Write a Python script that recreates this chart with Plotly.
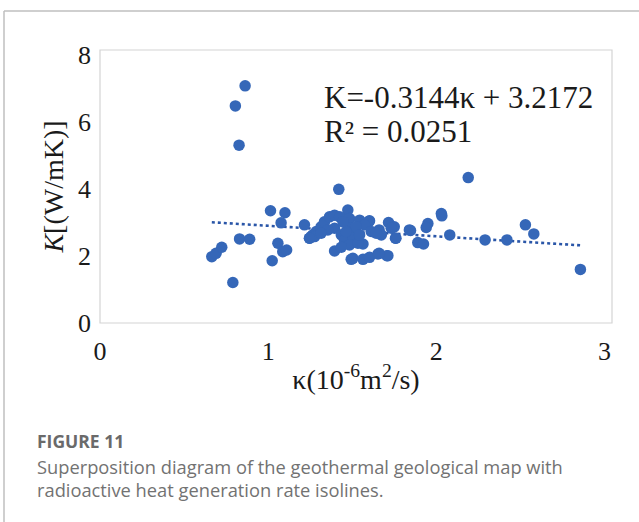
import plotly.graph_objects as go

# Thermal diffusivity κ (10^-6 m^2/s) and thermal conductivity K (W/mK)
kappa = [
    0.863, 0.805, 0.827, 2.19, 1.42, 2.857, 0.79,
    0.665, 0.69, 0.724, 0.83, 0.89, 1.014, 1.10, 1.077, 1.058, 1.087, 1.11, 1.024,
    1.216, 1.256, 1.246, 1.266, 1.395, 1.504, 1.564, 1.603, 1.653, 1.712, 1.564,
    1.474, 1.60, 1.716, 1.757, 1.84, 1.89, 1.95,
    1.75, 1.706, 1.847, 1.924, 1.94, 2.03, 2.033, 2.08, 2.29, 2.42, 2.53, 2.58,
    1.286, 1.315, 1.335, 1.365, 1.395, 1.425, 1.484, 1.544, 1.603, 1.66, 1.673,
    1.732, 1.76, 1.395, 1.355, 1.276, 1.435, 1.454, 1.494, 1.514, 1.504, 1.484,
    1.534, 1.435, 1.494, 1.66, 1.573, 1.613, 1.643, 1.524, 1.544, 1.464, 1.445,
    1.315, 1.246,
]
conductivity = [
    7.08, 6.48, 5.31, 4.34, 3.99, 1.60, 1.21,
    1.98, 2.08, 2.26, 2.51, 2.50, 3.35, 3.29, 2.99, 2.38, 2.13, 2.18, 1.86,
    2.93, 2.58, 2.53, 2.63, 2.15, 1.93, 1.90, 1.96, 2.06, 2.01, 2.36,
    3.37, 3.04, 3.00, 2.53, 2.78, 2.40, 2.97,
    2.87, 2.01, 2.76, 2.36, 2.85, 3.27, 3.20, 2.63, 2.48, 2.48, 2.93, 2.66,
    2.73, 2.87, 3.02, 3.17, 3.22, 3.17, 3.12, 3.07, 3.05, 2.78, 2.63,
    2.83, 2.53, 2.83, 2.78, 2.58, 2.63, 2.48, 2.83, 2.68, 2.53, 2.33,
    2.38, 2.26, 1.90, 2.08, 2.93, 2.73, 2.68, 2.87, 2.63, 2.73, 3.02,
    2.68, 2.53,
]

# Linear fit reported on the chart
slope, intercept = -0.3144, 3.2172
r_squared = 0.0251
fit_x = [min(kappa), max(kappa)]
fit_y = [slope * v + intercept for v in fit_x]

x_ticks = [0, 1, 2, 3]
y_ticks = [0, 2, 4, 6, 8]

W, H = 639, 522
L, R, T, B = 100, 612, 50, 323  # plot-area box in pixels


def px(x):
    return (x - L) / (R - L)


def py(y):
    return (B - y) / (B - T)


SERIF = "Liberation Serif, Times New Roman, serif"
SANS = "Open Sans, Noto Sans, sans-serif"

fig = go.Figure()
fig.add_trace(go.Scatter(
    x=fit_x, y=fit_y, mode="lines",
    line=dict(color="#2A56A8", width=2.6, dash="dot"),
    hoverinfo="skip", showlegend=False,
))
fig.add_trace(go.Scatter(
    x=kappa, y=conductivity, mode="markers",
    marker=dict(color="#3567B8", size=11.5, line=dict(width=0)),
    showlegend=False,
))

axis_common = dict(
    showgrid=False, zeroline=False, ticks="", showline=False,
    tickfont=dict(family=SERIF, size=26, color="#1a1a1a"),
    title_font=dict(family=SERIF, size=28, color="#1a1a1a"),
)
fig.update_xaxes(
    range=[0, 3.045], tickvals=x_ticks, ticktext=[str(t) for t in x_ticks],
    ticklabelstandoff=10,
    title_text="κ(10<sup>-6</sup>m<sup>2</sup>/s)", title_standoff=4,
    **axis_common,
)
fig.update_yaxes(
    range=[0, 8.15], tickvals=y_ticks, ticktext=[str(t) for t in y_ticks],
    ticklabelstandoff=8,
    title_text="<i>K</i>[(W/mK)]", title_standoff=6,
    **axis_common,
)

shapes = [
    # plot-area border
    dict(type="rect", xref="paper", yref="paper", x0=0, y0=0, x1=1, y1=1,
         line=dict(color="#d4d4d4", width=1.2)),
    # outer figure frame
    dict(type="line", xref="paper", yref="paper", x0=px(4), y0=py(11), x1=px(W + 5), y1=py(11),
         line=dict(color="#bfbfbf", width=1.5)),
    dict(type="line", xref="paper", yref="paper", x0=px(4), y0=py(11), x1=px(4), y1=py(H + 5),
         line=dict(color="#bfbfbf", width=1.5)),
]

annotations = [
    dict(xref="paper", yref="paper", x=px(322), y=py(97), xanchor="left", yanchor="middle",
         text=f"K={slope}κ + {intercept}", showarrow=False,
         font=dict(family=SERIF, size=31, color="#1a1a1a")),
    dict(xref="paper", yref="paper", x=px(322), y=py(131), xanchor="left", yanchor="middle",
         text=f"R² = {r_squared}", showarrow=False,
         font=dict(family=SERIF, size=31, color="#1a1a1a")),
    dict(xref="paper", yref="paper", x=px(35), y=py(441), xanchor="left", yanchor="middle",
         text="<b>FIGURE 11</b>", showarrow=False,
         font=dict(family=SANS, size=17.5, color="#6a6a6a")),
    dict(xref="paper", yref="paper", x=px(35), y=py(466), xanchor="left", yanchor="middle",
         text="Superposition diagram of the geothermal geological map with", showarrow=False,
         font=dict(family=SANS, size=18.3, color="#727272")),
    dict(xref="paper", yref="paper", x=px(35), y=py(489), xanchor="left", yanchor="middle",
         text="radioactive heat generation rate isolines.", showarrow=False,
         font=dict(family=SANS, size=18.3, color="#727272")),
]

fig.update_layout(
    width=W, height=H,
    margin=dict(l=L, r=W - R, t=T, b=H - B),
    paper_bgcolor="white", plot_bgcolor="white",
    shapes=shapes, annotations=annotations,
)

fig.write_html("out.html", config={"displayModeBar": False})
